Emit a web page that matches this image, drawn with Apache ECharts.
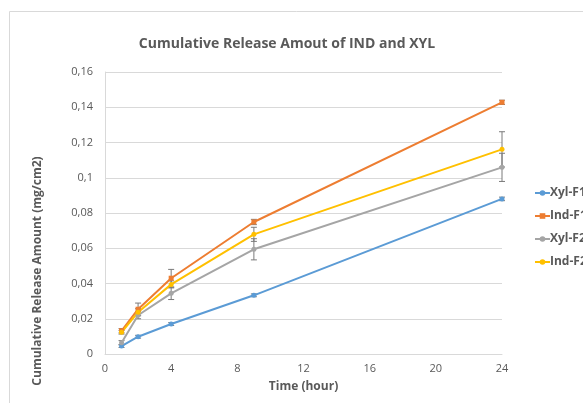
<!DOCTYPE html>
<html><head><meta charset="utf-8">
<script src="https://cdn.jsdelivr.net/npm/echarts@6/dist/echarts.min.js"></script>
<style>html,body{margin:0;padding:0;background:#fff}#c{width:583px;height:403px}</style>
</head><body><div id="c"></div>
<script>
const times = [1, 2, 4, 9, 24];
const seriesNames = ['Xyl-F1', 'Ind-F1', 'Xyl-F2', 'Ind-F2'];
const xylF1 = [0.0045, 0.0098, 0.0170, 0.0333, 0.0880];
const indF1 = [0.0132, 0.0254, 0.0430, 0.0749, 0.1428];
const xylF2 = [0.0064, 0.0220, 0.0344, 0.0594, 0.1059];
const indF2 = [0.0123, 0.0237, 0.0395, 0.0679, 0.1161];
const xylF1Err = [0.0008, 0.0008, 0.0008, 0.0008, 0.0010];
const indF1Err = [0.0012, 0.0035, 0.0050, 0.0015, 0.0012];
const xylF2Err = [0.0012, 0.0020, 0.0035, 0.0060, 0.0080];
const indF2Err = [0.0010, 0.0020, 0.0020, 0.0040, 0.0100];
const yTicks = ['0', '0,02', '0,04', '0,06', '0,08', '0,1', '0,12', '0,14', '0,16'];

const colors = ['#5b9bd5', '#ed7d31', '#a5a5a5', '#ffc000'];
const symbols = ['circle', 'rect', 'circle', 'circle'];
const vals = [xylF1, indF1, xylF2, indF2];
const errs = [xylF1Err, indF1Err, xylF2Err, indF2Err];
const FONT = 'Open Sans';

const series = [];
vals.forEach((v, i) => {
  series.push({
    type: 'custom', name: 'err' + i, z: 3, silent: true,
    data: times.map((t, k) => [t, v[k] - errs[i][k], v[k] + errs[i][k]]),
    renderItem: function (params, api) {
      const lo = api.coord([api.value(0), api.value(1)]);
      const hi = api.coord([api.value(0), api.value(2)]);
      const w = 3;
      const st = { stroke: '#7a7a7a', lineWidth: 1 };
      return { type: 'group', children: [
        { type: 'line', shape: { x1: lo[0], y1: lo[1], x2: hi[0], y2: hi[1] }, style: st },
        { type: 'line', shape: { x1: lo[0] - w, y1: lo[1], x2: lo[0] + w, y2: lo[1] }, style: st },
        { type: 'line', shape: { x1: hi[0] - w, y1: hi[1], x2: hi[0] + w, y2: hi[1] }, style: st }
      ]};
    }
  });
});
vals.forEach((v, i) => {
  series.push({
    type: 'line', name: seriesNames[i], z: 4,
    data: times.map((t, k) => [t, v[k]]),
    symbol: symbols[i], symbolSize: 5, showAllSymbol: true,
    lineStyle: { color: colors[i], width: 2 },
    itemStyle: { color: colors[i] }
  });
});

const chart = echarts.init(document.getElementById('c'));
chart.setOption({
  animation: false,
  color: colors,
  graphic: [
    { type: 'rect', shape: { x: 9.5, y: 11.5, width: 700, height: 500 }, style: { fill: 'none', stroke: '#d9d9d9', lineWidth: 1 }, z: -1 },
    { type: 'text', x: 287, y: 44,
      style: { text: 'Cumulative Release Amout of IND and XYL', align: 'center', verticalAlign: 'middle',
        fontFamily: FONT, fontSize: 14, fontWeight: 'bold', fill: '#595959' } },
    { type: 'text', x: 38, y: 271, rotation: Math.PI / 2,
      style: { text: 'Cumulative Release Amount (mg/cm2)', align: 'center', verticalAlign: 'middle',
        fontFamily: FONT, fontSize: 12, fontWeight: 'bold', fill: '#595959' } }
  ],
  legend: {
    data: seriesNames, orient: 'vertical', left: 529, top: 182, itemGap: 11,
    itemWidth: 15, itemHeight: 7,
    textStyle: { fontFamily: FONT, fontSize: 12, fontWeight: 'bold', color: '#595959', padding: [0, 0, 0, -5] }
  },
  grid: { left: 105, right: 81, top: 72, bottom: 49 },
  xAxis: {
    type: 'value', min: 0, max: 24, interval: 4,
    name: 'Time (hour)', nameLocation: 'middle', nameGap: 27,
    nameTextStyle: { fontFamily: FONT, fontSize: 12, fontWeight: 'bold', color: '#595959' },
    axisLine: { lineStyle: { color: '#d9d9d9' } },
    axisTick: { show: false },
    splitLine: { show: false },
    axisLabel: { fontFamily: FONT, fontSize: 11, color: '#595959', margin: 9 }
  },
  yAxis: {
    type: 'value', min: 0, max: 0.16, interval: 0.02,
    axisLine: { show: true, lineStyle: { color: '#d9d9d9' } },
    axisTick: { show: false },
    splitLine: { lineStyle: { color: '#d9d9d9' } },
    axisLabel: { fontFamily: FONT, fontSize: 11, color: '#595959', margin: 12,
      formatter: (v) => yTicks[Math.round(v / 0.02)] }
  },
  series: series
});
</script></body></html>
